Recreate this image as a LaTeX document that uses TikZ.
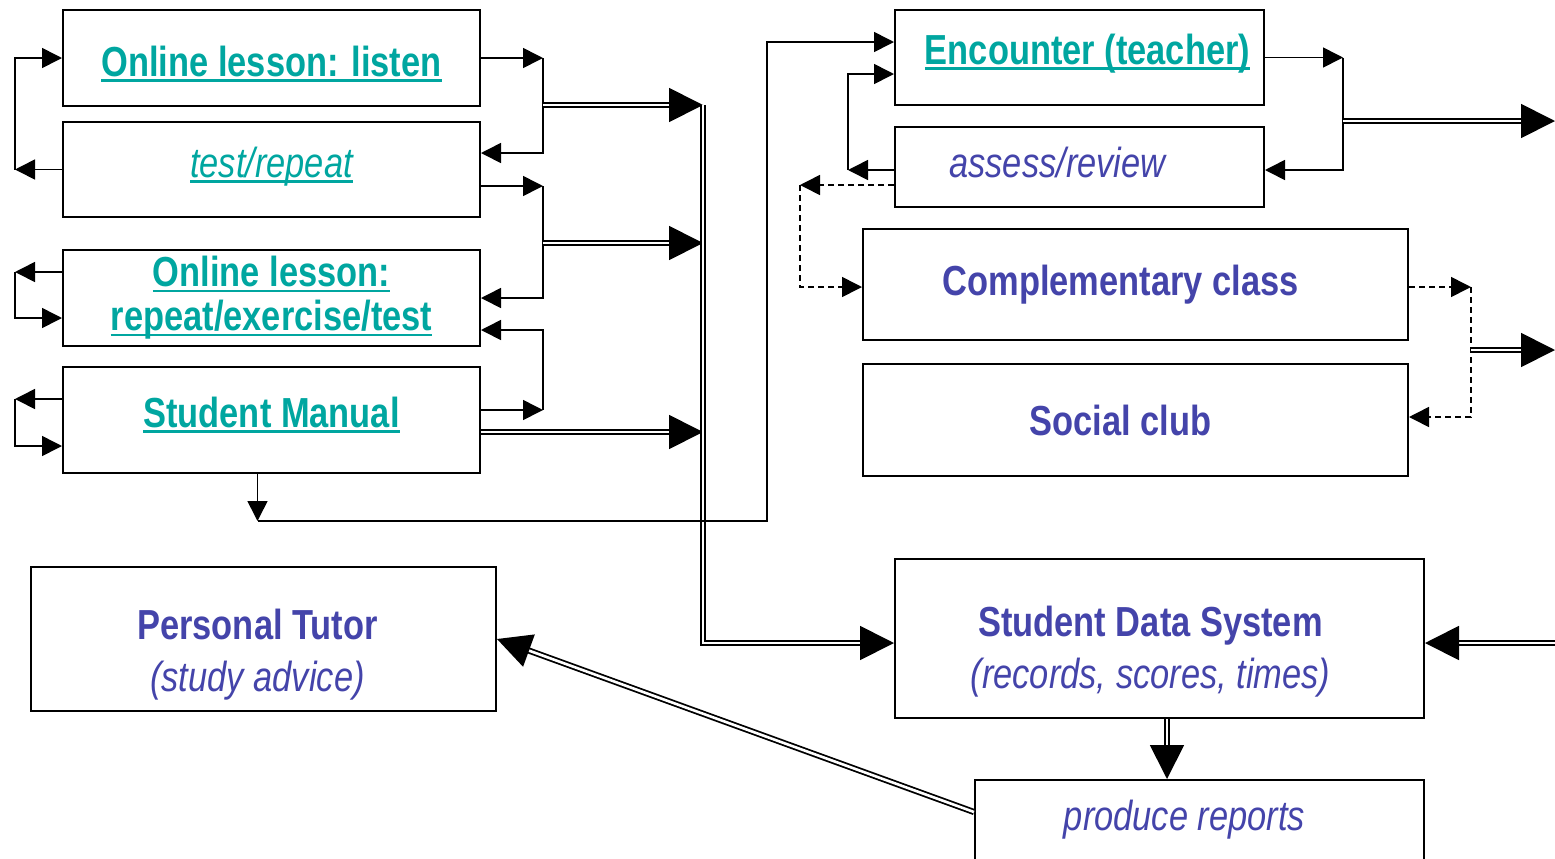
\documentclass[tikz,border=0pt]{standalone}
\usepackage{fontspec}
\setmainfont{Liberation Sans}[FakeStretch=0.82]
\usetikzlibrary{arrows.meta}
\definecolor{lessonteal}{RGB}{0,166,160}
\definecolor{dataindigo}{RGB}{68,68,170}
\newsavebox{\lnkbox}
\newcommand{\lnk}[1]{\sbox{\lnkbox}{#1}\rlap{\rule[-2.6pt]{\wd\lnkbox}{1.2pt}}\usebox{\lnkbox}}
\newcommand{\nudge}[3]{\hspace*{#1}\raisebox{#2}[\height][\depth]{#3}}
\newcommand{\twolines}[2]{\begin{tabular}{@{}c@{}}#1\\ #2\end{tabular}}

\begin{document}
\begin{tikzpicture}[x=0.5pt, y=-0.5pt, line width=0.8pt,
    box/.style = {draw, line width=1pt, inner sep=0pt, align=center, font=\fontsize{21}{22}\selectfont},
    lesson/.style = {box, text=lessonteal},
    info/.style = {box, text=dataindigo, font=\fontsize{21}{26}\selectfont},
    arr/.style = {-{Triangle[length=10pt,width=10pt]}},
    dashedarr/.style = {arr, dash pattern=on 3pt off 2pt},
    dbl/.style = {double, double distance=1.3pt, line width=0.9pt, -{Triangle[length=17pt,width=17pt]}}]
    \useasboundingbox (0,0) rectangle (1555,858);
    % online part
    \node[lesson, minimum width=208.5pt, minimum height=48pt] (oll) at (271.5,58) {\nudge{0pt}{-3pt}{\bfseries\lnk{Online lesson: listen}}};
    \node[lesson, minimum width=208.5pt, minimum height=47.5pt] (tr) at (271.5,169.5) {\nudge{0pt}{1.5pt}{\itshape\lnk{test/repeat}}};
    \node[lesson, minimum width=208.5pt, minimum height=48pt] (olr) at (271.5,298) {\bfseries\lnk{Online lesson:}\\ \bfseries\lnk{repeat/exercise/test}};
    \node[lesson, minimum width=208.5pt, minimum height=53pt] (sm) at (271.5,420) {\nudge{0pt}{2.5pt}{\bfseries\lnk{Student Manual}}};
    \node[info, minimum width=232.5pt, minimum height=72pt] (pt) at (263.5,639) {\nudge{-6pt}{-8pt}{\twolines{\bfseries Personal Tutor}{\itshape (study advice)}}};
    % class part
    \node[lesson, minimum width=184.5pt, minimum height=47.5pt] (enc) at (1079.5,57.5) {\nudge{8pt}{2pt}{\bfseries\lnk{Encounter (teacher)}}};
    \node[info, minimum width=184.5pt, minimum height=40pt] (ar) at (1079.5,167) {\nudge{-22pt}{2.5pt}{\itshape assess/review}};
    \node[info, minimum width=272.5pt, minimum height=55.5pt] (cc) at (1135.5,284.5) {\nudge{-15pt}{0pt}{\bfseries Complementary class}};
    \node[info, minimum width=272.5pt, minimum height=56pt] (sc) at (1135.5,420) {\nudge{-15pt}{0pt}{\bfseries Social club}};
    \node[info, minimum width=264.5pt, minimum height=79.5pt] (sds) at (1159.5,638.5) {\nudge{-9pt}{-7pt}{\twolines{\bfseries Student Data System}{\itshape (records, scores, times)}}};
    \node[info, minimum width=224.5pt, minimum height=40pt] (pr) at (1199.5,820) {\nudge{-15pt}{0pt}{\itshape produce reports}};

    % corners
    \coordinate (l1) at (15,169.5);
    \coordinate (l2) at (15,272);
    \coordinate (l3) at (15,399);
    \coordinate (r1) at (543,58);
    \coordinate (r2) at (543,186);
    \coordinate (r3) at (543,410);
    \coordinate (j1) at (543,105);
    \coordinate (j2) at (543,243);
    \coordinate (b1) at (703,105);
    \coordinate (b2) at (703,243);
    \coordinate (b3) at (703,432);
    \coordinate (c1) at (257.5,521);
    \coordinate (c2) at (767,521);
    \coordinate (q1) at (1343,57.5);
    \coordinate (q2) at (1343,121);
    \coordinate (q3) at (848,170);
    \coordinate (q4) at (800,185);
    \coordinate (q5) at (1471,287);
    \coordinate (q6) at (1471,350);
    \coordinate (e1) at (1555,121);
    \coordinate (e2) at (1555,350);
    \coordinate (e3) at (1555,643);

    % loops on the left
    \draw[arr] (tr.west) -- (l1);
    \draw[arr] (l1) |- (oll.west);
    \draw[arr] ([yshift=13pt]olr.west) -- (l2);
    \draw[arr] (l2) |- ([yshift=-10pt]olr.west);
    \draw[arr] ([yshift=10.5pt]sm.west) -- (l3);
    \draw[arr] (l3) |- ([yshift=-13pt]sm.west);
    % loops on the right
    \draw[arr] (oll.east) -- (r1);
    \draw[arr] (r1) |- ([yshift=8.25pt]tr.east);
    \draw[arr] ([yshift=-8.25pt]tr.east) -- (r2);
    \draw[arr] (r2) |- (olr.east);
    \draw[arr] ([yshift=5pt]sm.east) -- (r3);
    \draw[arr] (r3) |- ([yshift=-16pt]olr.east);
    \draw[dbl] (j1) -- (b1);
    \draw[dbl] (j2) -- (b2);
    \draw[dbl] ([yshift=-6pt]sm.east) -- (b3);
    \draw[dbl] (b1) |- ([yshift=-2.25pt]sds.west);
    % manual to encounter
    \draw[arr] ([xshift=-7pt]sm.south) -- (c1);
    \draw[arr] (c1) -- (c2) |- ([yshift=7.75pt]enc.west);
    % encounter
    \draw[arr] (enc.east) -- (q1);
    \draw[arr] (q1) |- ([yshift=-1.5pt]ar.east);
    \draw[dbl] (q2) -- (e1);
    \draw[arr] ([yshift=-1.5pt]ar.west) -- (q3);
    \draw[arr] (q3) |- ([yshift=-8.25pt]enc.west);
    \draw[dashedarr] ([yshift=-9pt]ar.west) -- (q4);
    \draw[dashedarr] (q4) |- ([yshift=-1.25pt]cc.west);
    \draw[dashedarr] ([yshift=-1.25pt]cc.east) -- (q5);
    \draw[dashedarr] (q5) |- ([yshift=1.5pt]sc.east);
    \draw[dbl] (q6) -- (e2);
    % data system
    \draw[dbl] (e3) -- ([yshift=-2.25pt]sds.east);
    \draw[dbl] ([xshift=3.75pt]sds.south) -- ([xshift=-16.25pt]pr.north);
    \draw[dbl] ([yshift=4pt]pr.west) -- (pt.east);
\end{tikzpicture}
\end{document}
